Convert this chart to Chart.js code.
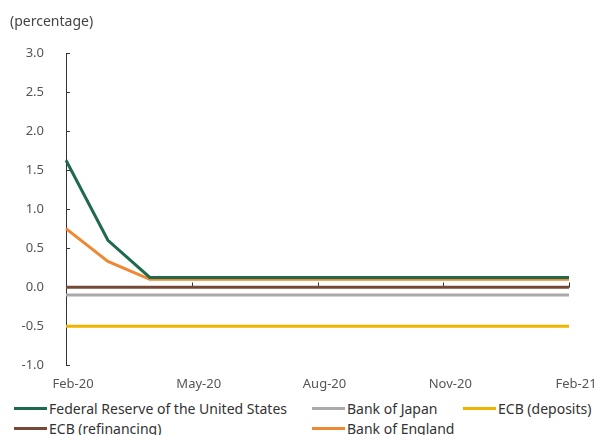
<!DOCTYPE html>
<html>
<head>
<meta charset="utf-8">
<script src="https://cdn.jsdelivr.net/npm/chart.js@4.4.1/dist/chart.umd.min.js"></script>
<style>
  body { margin: 0; background: #fff; font-family: "Noto Sans", sans-serif; }
  #wrap { position: relative; width: 597px; height: 435px; overflow: hidden; }
  #box { position: absolute; left: 0; top: 0; width: 597px; height: 395px; }
  #unit { position: absolute; left: 10px; top: 11px; font-size: 14px; color: #444; }
  #legend { position: absolute; left: 0; top: 399px; width: 597px; height: 36px; }
  .item { position: absolute; font-size: 14px; color: #333; white-space: nowrap; display: flex; align-items: center; }
  .item span.mark { display: inline-block; width: 33px; height: 3px; margin-right: 2px; }
</style>
</head>
<body>
<div id="wrap">
  <div id="box"><canvas id="myChart"></canvas></div>
  <div id="unit">(percentage)</div>
  <div id="legend"></div>
</div>
<script>
// monthly policy rates, Feb-20 .. Feb-21
var months = ['Feb-20', 'Mar-20', 'Apr-20', 'May-20', 'Jun-20', 'Jul-20', 'Aug-20',
              'Sep-20', 'Oct-20', 'Nov-20', 'Dec-20', 'Jan-21', 'Feb-21'];
var fedRate     = [1.625, 0.6, 0.125, 0.125, 0.125, 0.125, 0.125, 0.125, 0.125, 0.125, 0.125, 0.125, 0.125];
var bojRate     = [-0.1, -0.1, -0.1, -0.1, -0.1, -0.1, -0.1, -0.1, -0.1, -0.1, -0.1, -0.1, -0.1];
var ecbDeposit  = [-0.5, -0.5, -0.5, -0.5, -0.5, -0.5, -0.5, -0.5, -0.5, -0.5, -0.5, -0.5, -0.5];
var ecbRefi     = [0, 0, 0, 0, 0, 0, 0, 0, 0, 0, 0, 0, 0];
var boeRate     = [0.75, 0.33, 0.1, 0.1, 0.1, 0.1, 0.1, 0.1, 0.1, 0.1, 0.1, 0.1, 0.1];

// legend slots (left offset, row)
var legendPos = [[14, 0], [312, 0], [463, 0], [14, 1], [312, 1]];

function series(label, data, color) {
    return {
        label: label,
        data: data,
        borderColor: color,
        backgroundColor: color,
        borderWidth: 3,
        pointRadius: 0,
        tension: 0,
        fill: false
    };
}

// zero line with tick marks, plus inward ticks on the value axis
var axisMarks = {
    id: 'axisMarks',
    beforeDatasetsDraw: function(chart) {
        var ctx = chart.ctx, x = chart.scales.x, y = chart.scales.y;
        var area = chart.chartArea;
        var y0 = Math.round(y.getPixelForValue(0)) + 0.5;
        ctx.save();
        ctx.strokeStyle = '#333';
        ctx.lineWidth = 1;
        ctx.beginPath();
        ctx.moveTo(area.left, y0);
        ctx.lineTo(area.right, y0);
        for (var i = 3; i < months.length; i += 3) {
            var px = Math.round(x.getPixelForValue(i)) + 0.5;
            ctx.moveTo(px, y0);
            ctx.lineTo(px, y0 - 5);
        }
        y.ticks.forEach(function(t) {
            var py = Math.round(y.getPixelForValue(t.value)) + 0.5;
            ctx.moveTo(area.left, py);
            ctx.lineTo(area.left + 4, py);
        });
        ctx.stroke();
        ctx.restore();
    }
};

var ctx = document.getElementById('myChart').getContext('2d');
var myChart = new Chart(ctx, {
    type: 'line',
    data: {
        labels: months,
        datasets: [
            series('Federal Reserve of the United States', fedRate, '#1f6a4d'),
            series('Bank of Japan', bojRate, '#aaaaaa'),
            series('ECB (deposits)', ecbDeposit, '#f0b400'),
            series('ECB (refinancing)', ecbRefi, '#764836'),
            series('Bank of England', boeRate, '#ee8833')
        ]
    },
    options: {
        responsive: true,
        maintainAspectRatio: false,
        animation: false,
        layout: { padding: { top: 53, right: 28, bottom: 0, left: 0 } },
        plugins: {
            legend: { display: false },
            tooltip: { enabled: false }
        },
        scales: {
            x: {
                offset: false,
                grid: { display: false },
                border: { display: false },
                afterFit: function(scale) { scale.height = 27; },
                ticks: {
                    autoSkip: false,
                    maxRotation: 0,
                    padding: 3,
                    labelOffset: 7,
                    color: '#555',
                    font: { family: 'Noto Sans', size: 13 },
                    callback: function(v, i) { return i % 3 === 0 ? months[i] : ''; }
                }
            },
            y: {
                min: -1,
                max: 3,
                grid: { display: false, drawTicks: false },
                border: { display: true, color: '#333', width: 1 },
                afterFit: function(scale) { scale.width = 66; },
                ticks: {
                    stepSize: 0.5,
                    padding: 22,
                    color: '#555',
                    font: { family: 'Noto Sans', size: 13 },
                    callback: function(v) { return v.toFixed(1); }
                }
            }
        }
    },
    plugins: [axisMarks]
});

// legend laid out in fixed columns under the plot
var legend = document.getElementById('legend');
myChart.data.datasets.forEach(function(ds, i) {
    var el = document.createElement('div');
    el.className = 'item';
    el.style.left = legendPos[i][0] + 'px';
    el.style.top = (legendPos[i][1] * 20) + 'px';
    var mark = document.createElement('span');
    mark.className = 'mark';
    mark.style.background = ds.borderColor;
    el.appendChild(mark);
    el.appendChild(document.createTextNode(ds.label));
    legend.appendChild(el);
});
</script>
</body>
</html>
